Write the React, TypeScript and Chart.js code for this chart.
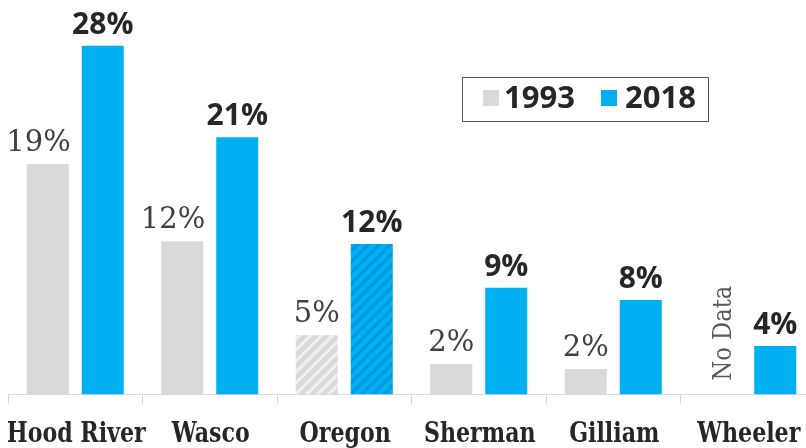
import React, { useEffect, useRef } from "react";
import { Chart, registerables } from "chart.js";

Chart.register(...registerables);

// ---- data ----
const categories = ["Hood River", "Wasco", "Oregon", "Sherman", "Gilliam", "Wheeler"];
const seriesNames = ["1993", "2018"];
const values1993: (number | null)[] = [18.5, 12.3, 4.75, 2.45, 2.05, null];
const values2018: number[] = [28.0, 20.65, 12.08, 8.57, 7.59, 3.89];
const labels1993 = ["19%", "12%", "5%", "2%", "2%", "No Data"];
const labels2018 = ["28%", "21%", "12%", "9%", "8%", "4%"];
const hatchedCategories = ["Oregon"];

// ---- styles ----
const GRAY = "#d9d9d9";
const GRAY_STRIPE = "#efefef";
const BLUE = "#00b0f0";
const BLUE_STRIPE = "#0096e2";
const Y_MAX = 30.87;

function makeHatch(bg: string, stripe: string): CanvasPattern | string {
  const c = document.createElement("canvas");
  const s = 11;
  c.width = s;
  c.height = s;
  const g = c.getContext("2d");
  if (!g) return bg;
  g.fillStyle = bg;
  g.fillRect(0, 0, s, s);
  g.strokeStyle = stripe;
  g.lineWidth = 3;
  g.beginPath();
  g.moveTo(0, s);
  g.lineTo(s, 0);
  g.moveTo(-s / 2, s / 2);
  g.lineTo(s / 2, -s / 2);
  g.moveTo(s / 2, s + s / 2);
  g.lineTo(s + s / 2, s / 2);
  g.stroke();
  return g.createPattern(c, "repeat") || bg;
}

const barLabelPlugin = {
  id: "barLabels",
  afterDatasetsDraw(chart: any) {
    const ctx = chart.ctx as CanvasRenderingContext2D;
    const base = chart.scales.y.getPixelForValue(0);
    chart.data.datasets.forEach((ds: any, di: number) => {
      const meta = chart.getDatasetMeta(di);
      meta.data.forEach((bar: any, i: number) => {
        const v = ds.data[i];
        ctx.save();
        if (di === 0) {
          if (v == null) {
            ctx.fillStyle = "#595959";
            ctx.font = '26px "DejaVu Serif", serif';
            ctx.translate(bar.x + 11, base - 14);
            ctx.rotate(-Math.PI / 2);
            ctx.scale(0.87, 1);
            ctx.textAlign = "left";
            ctx.textBaseline = "alphabetic";
            ctx.fillText(labels1993[i], 0, 0);
          } else {
            ctx.fillStyle = "#404040";
            ctx.font = '29px "DejaVu Serif", serif';
            ctx.textAlign = "right";
            ctx.textBaseline = "alphabetic";
            ctx.fillText(labels1993[i], bar.x + bar.width / 2 + 2, bar.y - 13);
          }
        } else {
          ctx.fillStyle = "#262626";
          ctx.font = 'bold 30px "Open Sans", sans-serif';
          ctx.textAlign = "center";
          ctx.textBaseline = "alphabetic";
          ctx.fillText(labels2018[i], bar.x, bar.y - 12);
        }
        ctx.restore();
      });
    });
  },
};

// category labels drawn under the x axis at the scale's own tick positions
const categoryLabelPlugin = {
  id: "categoryLabels",
  afterDraw(chart: any) {
    const xs = chart.scales.x;
    const ctx = chart.ctx as CanvasRenderingContext2D;
    const y = chart.chartArea.bottom + 47.5;
    ctx.save();
    ctx.font = 'bold 28px "DejaVu Serif", serif';
    ctx.fillStyle = "#262626";
    ctx.textAlign = "center";
    ctx.textBaseline = "alphabetic";
    categories.forEach((c, i) => {
      const x = xs.getPixelForTick(i);
      ctx.save();
      ctx.translate(x + 1, y);
      ctx.scale(0.79, 1);
      ctx.fillText(c, 0, 0);
      ctx.restore();
    });
    ctx.restore();
  },
};

export default function App() {
  const ref = useRef<HTMLCanvasElement>(null);

  useEffect(() => {
    if (!ref.current) return;
    const grayPattern = makeHatch(GRAY, GRAY_STRIPE);
    const bluePattern = makeHatch(BLUE, BLUE_STRIPE);
    const chart = new Chart(ref.current, {
      type: "bar",
      data: {
        labels: categories,
        datasets: [
          {
            label: seriesNames[0],
            data: values1993,
            backgroundColor: categories.map((c) => (hatchedCategories.includes(c) ? grayPattern : GRAY)),
            borderWidth: 0,
            categoryPercentage: 0.818,
            barPercentage: 0.764,
          },
          {
            label: seriesNames[1],
            data: values2018,
            backgroundColor: categories.map((c) => (hatchedCategories.includes(c) ? bluePattern : BLUE)),
            borderWidth: 0,
            categoryPercentage: 0.818,
            barPercentage: 0.764,
          },
        ],
      },
      options: {
        responsive: false,
        animation: false,
        layout: { padding: { top: 10, left: 0, right: 0, bottom: 43.5 } },
        plugins: {
          legend: { display: false },
          tooltip: { enabled: false },
        },
        scales: {
          x: {
            grid: {
              display: true,
              drawOnChartArea: false,
              drawTicks: true,
              tickLength: 10,
              color: GRAY,
              offset: true,
            },
            border: { display: true, color: GRAY, width: 1 },
            ticks: { display: false },
          },
          y: {
            display: false,
            min: 0,
            max: Y_MAX,
          },
        },
      },
      plugins: [barLabelPlugin, categoryLabelPlugin],
    });
    return () => chart.destroy();
  }, []);

  const legendText: React.CSSProperties = {
    fontFamily: '"Open Sans", sans-serif',
    fontWeight: 700,
    fontSize: 31,
    lineHeight: "30px",
    color: "#262626",
    position: "absolute",
    top: 3,
  };
  const square = (color: string, left: number): React.CSSProperties => ({
    position: "absolute",
    left,
    top: 12,
    width: 16,
    height: 16,
    background: color,
  });

  return (
    <div
      style={{
        position: "fixed",
        left: 0,
        top: 0,
        width: 806,
        height: 448,
        overflow: "hidden",
        background: "#fff",
      }}
    >
      <canvas
        ref={ref}
        width={807}
        height={448}
        style={{ position: "absolute", left: 8, top: 0, width: 807, height: 448 }}
      />
      <div
        style={{
          position: "absolute",
          left: 462,
          top: 77,
          width: 245,
          height: 43,
          border: "1px solid #595959",
        }}
      >
        <div style={square(GRAY, 20)} />
        <span style={{ ...legendText, left: 41 }}>{seriesNames[0]}</span>
        <div style={square(BLUE, 138)} />
        <span style={{ ...legendText, left: 162 }}>{seriesNames[1]}</span>
      </div>
    </div>
  );
}
